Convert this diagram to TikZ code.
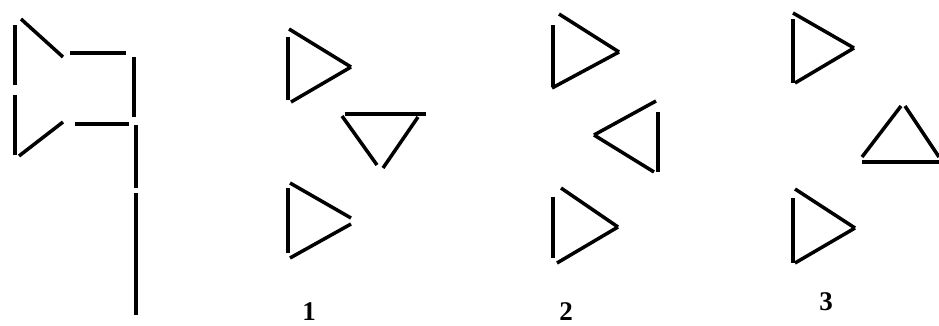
\documentclass[tikz,border=0pt]{standalone}
\usepackage{fontspec}
\setmainfont{Liberation Serif}
\begin{document}
\begin{tikzpicture}[x=1pt,y=-1pt,
  stick/.style={line width=3.5pt,line cap=butt,black},
  lab/.style={font=\fontsize{27}{27}\selectfont\bfseries,inner sep=0pt}]
\useasboundingbox (0,0) rectangle (939,325);
% flag
\draw[stick] (15,25) -- (15,85);
\draw[stick] (15,95) -- (15,155);
\draw[stick] (21,19) -- (63,57);
\draw[stick] (70,53) -- (126,53);
\draw[stick] (134,57) -- (134,117);
\draw[stick] (19,156) -- (63,122);
\draw[stick] (75,124) -- (129,124);
\draw[stick] (136,125) -- (136,188);
\draw[stick] (136,193) -- (136,315);
% option 1
\draw[stick] (288,37) -- (288,100);
\draw[stick] (289,29) -- (351,67);
\draw[stick] (351,67) -- (291,102);
\draw[stick] (345,114) -- (426,114);
\draw[stick] (342,116) -- (377,165);
\draw[stick] (418,117) -- (383,168);
\draw[stick] (288,188) -- (288,253);
\draw[stick] (290,183) -- (351,218);
\draw[stick] (351,224) -- (290,258);
\node[lab] (l1) at (309,312) {1};
% option 2
\draw[stick] (553,25) -- (553,87);
\draw[stick] (559,14) -- (619,52);
\draw[stick] (619,52) -- (552,88);
\draw[stick] (658,112) -- (658,172);
\draw[stick] (656,101) -- (594,135);
\draw[stick] (594,135) -- (654,172);
\draw[stick] (553,197) -- (553,258);
\draw[stick] (561,188) -- (618,227);
\draw[stick] (618,227) -- (557,263);
\node[lab] (l2) at (566,312) {2};
% option 3
\draw[stick] (793,19) -- (793,83);
\draw[stick] (793,13) -- (854,48);
\draw[stick] (854,48) -- (795,83);
\draw[stick] (901,106) -- (862,157);
\draw[stick] (905,106) -- (939,157);
\draw[stick] (862,162) -- (939,162);
\draw[stick] (793,198) -- (793,263);
\draw[stick] (795,189) -- (855,228);
\draw[stick] (855,228) -- (795,263);
\node[lab] (l3) at (826,302) {3};
\end{tikzpicture}
\end{document}
